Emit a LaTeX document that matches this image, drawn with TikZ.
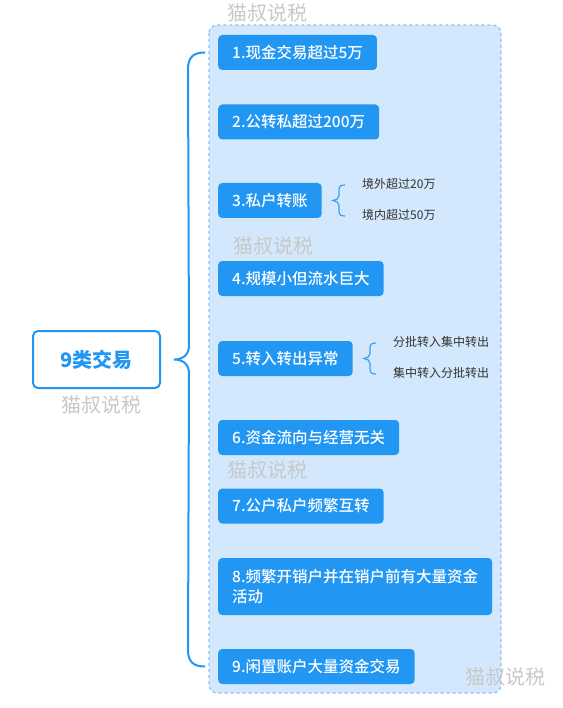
\documentclass[tikz,border=0pt]{standalone}
\usepackage{fontspec}
\setmainfont{Noto Sans CJK SC}
\newfontfamily\medfont{Noto Sans CJK SC Medium}
\usetikzlibrary{calc}

\definecolor{itemblue}{RGB}{33,150,243}
\definecolor{panelfill}{RGB}{211,232,252}
\definecolor{paneledge}{RGB}{136,195,242}
\definecolor{stampgray}{RGB}{200,200,200}
\definecolor{notegray}{RGB}{51,51,51}

\begin{document}
\begin{tikzpicture}[x=1pt, y=-1pt,
    item/.style={fill=itemblue, text=white, rounded corners=4pt, anchor=west,
      minimum height=35pt, inner xsep=14pt, inner ysep=4pt, align=left,
      font=\fontsize{15.5}{20}\selectfont\medfont},
    rootbox/.style={draw=itemblue, fill=white, line width=2pt, rounded corners=5pt,
      minimum width=127pt, minimum height=57pt, text=itemblue,
      font=\fontsize{20}{22}\selectfont\bfseries},
    subnote/.style={anchor=west, inner sep=0pt, text=notegray,
      font=\fontsize{12}{13}\selectfont},
    stamp/.style={text=stampgray, inner sep=0pt, font=\fontsize{20}{22}\selectfont},
    trunk/.style={draw=itemblue, line width=2pt},
    twig/.style={draw=itemblue!90!white, line width=1.2pt}]
    \useasboundingbox (0,0) rectangle (562,708);

    % Cadre
    \draw[paneledge, fill=panelfill, dashed, line width=1.2pt, rounded corners=8pt]
      (209,25) rectangle (501,693);

    % Racine
    \node[rootbox] (root) at (96.5,359.5) {9类交易};

    % Branches
    \node[item] (n1) at (218,52.5) {1.现金交易超过5万};
    \node[item] (n2) at (218,122) {2.公转私超过200万};
    \node[item] (n3) at (218,200.5) {3.私户转账};
    \node[item] (n4) at (218,278.5) {4.规模小但流水巨大};
    \node[item] (n5) at (218,358.5) {5.转入转出异常};
    \node[item] (n6) at (218,437.5) {6.资金流向与经营无关};
    \node[item] (n7) at (218,506) {7.公户私户频繁互转};
    \node[item, minimum height=57pt] (n8) at (218,586.5) {8.频繁开销户并在销户前有大量资金\\活动};
    \node[item] (n9) at (218,666.5) {9.闲置账户大量资金交易};

    % Details
    \node[subnote] (s3a) at (362,184) {境外超过20万};
    \node[subnote] (s3b) at (362,215) {境内超过50万};
    \node[subnote] (s5a) at (393,342) {分批转入集中转出};
    \node[subnote] (s5b) at (393,373) {集中转入分批转出};

    % Accolade principale
    \coordinate (notch) at ($(root.east)+(13,0)$);
    \coordinate (bt) at ($(n1.west)+(-13,0)$);
    \coordinate (bb) at ($(n9.west)+(-13,0)$);
    \draw[trunk] (bt) .. controls +(-12,0) and +(0,-12) .. ($(bt)+(-17,17)$)
      -- ($(notch)+(15,-14)$) .. controls +(0,10) and +(8,0) .. (notch)
      .. controls +(8,0) and +(0,-10) .. ($(notch)+(15,14)$)
      -- ($(bb)+(-17,-17)$) .. controls +(0,12) and +(-12,0) .. (bb);

    % Petites accolades
    \coordinate (k3t) at ($(s3a.west)+(-17,1)$);
    \coordinate (k3b) at ($(s3b.west)+(-17,1)$);
    \coordinate (k3) at ($(k3t)!0.5!(k3b)+(-12,0)$);
    \draw[twig] (k3t) .. controls +(-4,0) and +(0,-4) .. ($(k3t)+(-6,5)$)
      -- ($(k3)+(6,-5)$) .. controls +(0,3) and +(3,0) .. (k3)
      .. controls +(3,0) and +(0,-3) .. ($(k3)+(6,5)$)
      -- ($(k3b)+(-6,-5)$) .. controls +(0,4) and +(-4,0) .. (k3b);

    \coordinate (k5t) at ($(s5a.west)+(-17,1)$);
    \coordinate (k5b) at ($(s5b.west)+(-17,1)$);
    \coordinate (k5) at ($(k5t)!0.5!(k5b)+(-12,0)$);
    \draw[twig] (k5t) .. controls +(-4,0) and +(0,-4) .. ($(k5t)+(-6,5)$)
      -- ($(k5)+(6,-5)$) .. controls +(0,3) and +(3,0) .. (k5)
      .. controls +(3,0) and +(0,-3) .. ($(k5)+(6,5)$)
      -- ($(k5b)+(-6,-5)$) .. controls +(0,4) and +(-4,0) .. (k5b);

    % Filigranes
    \node[stamp] (w1) at (267,13) {猫叔说税};
    \node[stamp] (w2) at (273,246) {猫叔说税};
    \node[stamp] (w3) at (101,405) {猫叔说税};
    \node[stamp] (w4) at (267,470) {猫叔说税};
    \node[stamp] (w5) at (505,677) {猫叔说税};
\end{tikzpicture}
\end{document}
